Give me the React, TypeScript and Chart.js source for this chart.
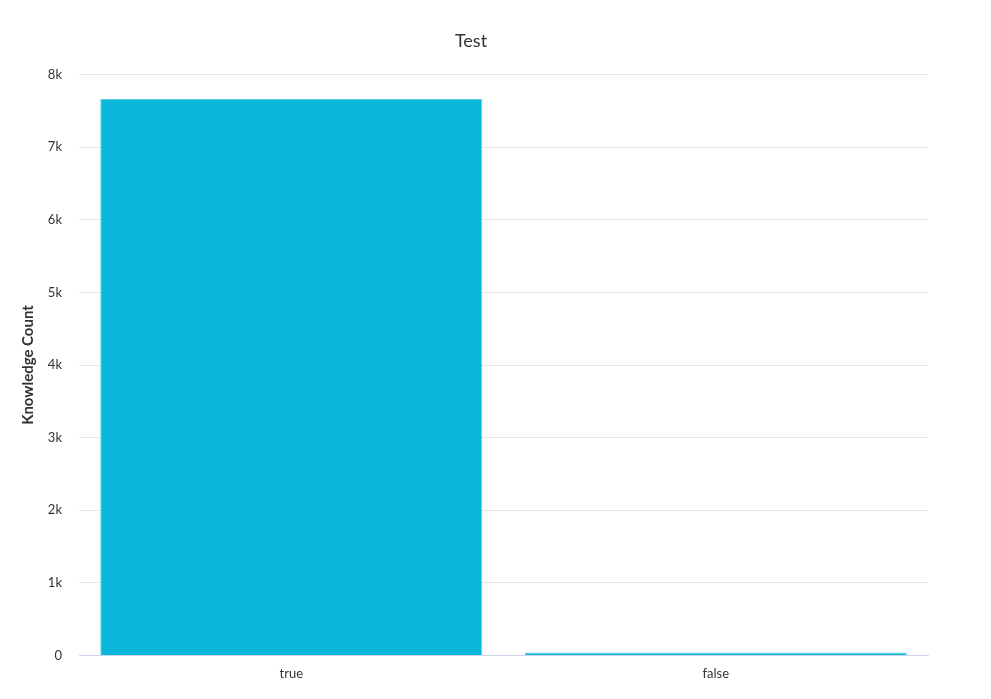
import { useRef, useEffect } from "react";
import Chart from "chart.js/auto";

const categories = ["true", "false"];
const counts = [7665, 40];
const yTicks = [0, 1000, 2000, 3000, 4000, 5000, 6000, 7000, 8000];

const barColor = "#0bb7da";
const fontFamily = "Lato, 'Open Sans', sans-serif";

export default function App() {
  const canvasRef = useRef<HTMLCanvasElement>(null);
  const chartRef = useRef<Chart | null>(null);

  useEffect(() => {
    if (!canvasRef.current) return;
    const ctx = canvasRef.current.getContext("2d");
    if (!ctx) return;

    if (chartRef.current) chartRef.current.destroy();

    chartRef.current = new Chart(ctx, {
      type: "bar",
      data: {
        labels: categories,
        datasets: [
          {
            label: "Knowledge Count",
            data: counts,
            backgroundColor: barColor,
            borderColor: "#62cfe6",
            borderWidth: 1,
            categoryPercentage: 0.9,
            barPercentage: 1,
          },
        ],
      },
      options: {
        responsive: true,
        maintainAspectRatio: false,
        animation: false,
        layout: { padding: { left: 0, right: 49, top: 0, bottom: 6 } },
        plugins: {
          legend: { display: false },
          tooltip: { enabled: false },
          title: {
            display: true,
            text: "Test",
            color: "#333333",
            font: { family: fontFamily, size: 18, weight: "normal" },
            padding: { top: 30, bottom: 23 },
          },
        },
        scales: {
          x: {
            grid: { display: false, drawTicks: false },
            border: { display: true, color: "#ccd6eb", width: 1 },
            ticks: {
              color: "#333333",
              font: { family: fontFamily, size: 13 },
              padding: 11,
            },
          },
          y: {
            min: 0,
            max: 8000,
            afterBuildTicks: (scale: any) => {
              scale.ticks = yTicks.map((v) => ({ value: v }));
            },
            afterFit: (scale: any) => {
              scale.width = 79;
            },
            grid: { color: "#e6e6e6", drawTicks: false },
            border: { display: false },
            ticks: {
              color: "#333333",
              font: { family: fontFamily, size: 13 },
              padding: 17,
              callback: (v: any) => (v === 0 ? "0" : `${v / 1000}k`),
            },
            title: {
              display: true,
              text: "Knowledge Count",
              color: "#333333",
              font: { family: fontFamily, size: 15, weight: "bold" },
              padding: { top: 19, bottom: 0 },
            },
          },
          y2: {
            position: "right",
            display: true,
            grid: { display: false, drawTicks: false },
            border: { display: false },
            ticks: { display: false },
            afterFit: (scale: any) => {
              scale.width = 14;
            },
          },
        },
      },
    });

    return () => {
      if (chartRef.current) {
        chartRef.current.destroy();
        chartRef.current = null;
      }
    };
  }, []);

  return (
    <div
      style={{
        position: "absolute",
        left: 0,
        top: 0,
        width: 991,
        height: 699,
        background: "#ffffff",
      }}
    >
      <canvas ref={canvasRef} role="img" aria-label="Bar chart: Knowledge Count by true/false" />
    </div>
  );
}
